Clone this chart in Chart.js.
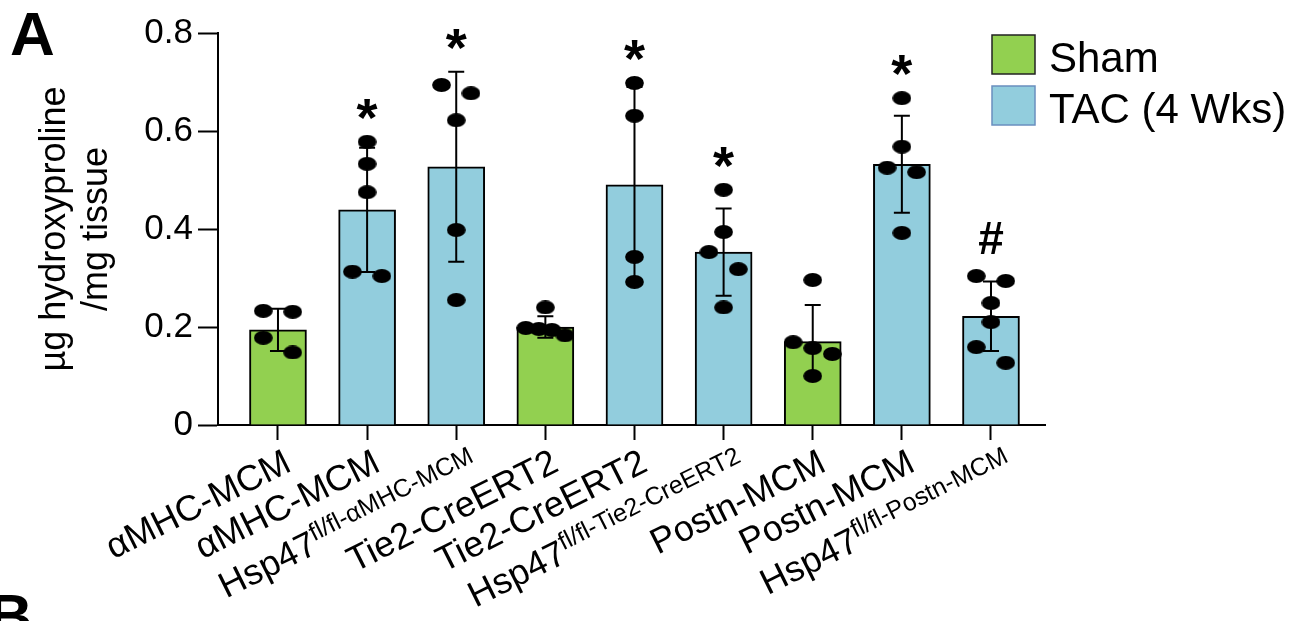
<!DOCTYPE html>
<html><head><meta charset="utf-8">
<script src="https://cdn.jsdelivr.net/npm/chart.js@4/dist/chart.umd.min.js"></script>
<style>html,body{margin:0;padding:0;background:#fff;overflow:hidden}#wrap{width:1304px;height:621px}</style>
</head><body><div id="wrap"><canvas id="c" width="1304" height="621"></canvas></div>
<script>
// ---------- data ----------
const categories = ['αMHC-MCM','αMHC-MCM','Hsp47','Tie2-CreERT2','Tie2-CreERT2','Hsp47','Postn-MCM','Postn-MCM','Hsp47'];
const categorySuperscripts = ['','','fl/fl-αMHC-MCM','','','fl/fl-Tie2-CreERT2','','','fl/fl-Postn-MCM'];
const categoryGroups = ['Sham','TAC','TAC','Sham','TAC','TAC','Sham','TAC','TAC'];
const seriesNames = ['Sham','TAC (4 Wks)'];
const meanValues = [0.194,0.439,0.527,0.200,0.490,0.353,0.170,0.532,0.222];
const sdValues   = [0.043,0.127,0.194,0.022,0.200,0.089,0.075,0.099,0.071];
const dots1 = [0.233,0.231,0.178,0.148];
const dots2 = [0.578,0.533,0.475,0.313,0.304];
const dots3 = [0.694,0.677,0.622,0.398,0.255];
const dots4 = [0.240,0.198,0.196,0.194,0.183];
const dots5 = [0.698,0.631,0.343,0.292];
const dots6 = [0.480,0.394,0.353,0.318,0.240];
const dots7 = [0.296,0.169,0.157,0.145,0.100];
const dots8 = [0.667,0.568,0.525,0.516,0.392];
const dots9 = [0.304,0.294,0.249,0.210,0.159,0.127];
const significance = ['','*','*','','*','*','','*','#'];
const yTickValues = [0,0.2,0.4,0.6,0.8];
const yTickLabels = ['0','0.2','0.4','0.6','0.8'];
const yAxisTitle = ['µg hydroxyproline','/mg tissue'];
const panelLetters = ['A','B'];

// ---------- styling ----------
const FONT = '"Liberation Sans", Arial, Helvetica, sans-serif';
const GREEN = '#92D050', BLUE = '#92CDDD';
const colorOf = g => g === 'Sham' ? GREEN : BLUE;

// simple beeswarm: points whose values are close get spread sideways
const SWARM_GAP = 0.0378, SWARM_STEP = 0.33, SWARM_SPREAD = 0.44;
function swarm(vals){
  const idx = vals.map((v,i)=>i).sort((a,b)=>vals[b]-vals[a]);
  const groups = []; let cur = [idx[0]];
  for(let k=1;k<idx.length;k++){
    if(vals[cur[cur.length-1]] - vals[idx[k]] < SWARM_GAP) cur.push(idx[k]);
    else { groups.push(cur); cur=[idx[k]]; }
  }
  groups.push(cur);
  const off = new Array(vals.length).fill(0);
  groups.forEach(g=>{
    const n=g.length; if(n<2) return;
    const step = Math.min(SWARM_STEP, SWARM_SPREAD/(n-1));
    g.forEach((id,k)=>{ off[id] = (k-(n-1)/2)*step; });
  });
  return off;
}
const allDots = [dots1,dots2,dots3,dots4,dots5,dots6,dots7,dots8,dots9];
const dotPoints = [];
allDots.forEach((vals,i)=>{ const o=swarm(vals); vals.forEach((v,k)=>dotPoints.push({x:i+o[k], y:v})); });

const dotImg = document.createElement('canvas');
dotImg.width = 19; dotImg.height = 14;
(function(){ const d=dotImg.getContext('2d'); d.fillStyle='#000'; d.beginPath(); d.ellipse(9.5,7,9.4,6.9,0,0,Math.PI*2); d.fill(); })();

// ---------- plugins ----------
const errorBars = {
  id:'errorBars',
  afterDatasetDraw(chart,args){
    if(args.index!==0) return;
    const {ctx, scales:{x,y}} = chart;
    ctx.save(); ctx.strokeStyle='#000'; ctx.lineWidth=2;
    meanValues.forEach((m,i)=>{
      const px = x.getPixelForValue(i);
      const t = y.getPixelForValue(m+sdValues[i]), b = y.getPixelForValue(m-sdValues[i]);
      ctx.beginPath();
      ctx.moveTo(px,t); ctx.lineTo(px,b);
      ctx.moveTo(px-8,t); ctx.lineTo(px+8,t);
      ctx.moveTo(px-8,b); ctx.lineTo(px+8,b);
      ctx.stroke();
    });
    ctx.restore();
  }
};

const annotations = {
  id:'annotations',
  afterDatasetsDraw(chart){
    const {ctx, scales:{x,y}} = chart;
    ctx.save(); ctx.fillStyle='#000'; ctx.textAlign='center'; ctx.textBaseline='alphabetic';
    significance.forEach((s,i)=>{
      if(!s) return;
      ctx.font = (s === '*' ? 'bold 54px ' : 'bold 46px ') + FONT;
      const topVal = Math.max(meanValues[i]+sdValues[i], ...allDots[i]);
      const top = y.getPixelForValue(topVal);
      const m = ctx.measureText(s);
      const base = (top - 22) - m.actualBoundingBoxDescent;
      ctx.fillText(s, x.getPixelForValue(i), base);
    });
    ctx.restore();
  }
};

const ANGLE = 26.5*Math.PI/180;
const xLabels = {
  id:'xLabels',
  afterDraw(chart){
    const {ctx, scales:{x}} = chart;
    const mainFont = '36px '+FONT, supFont = '25px '+FONT;
    ctx.save(); ctx.fillStyle='#000'; ctx.textBaseline='alphabetic'; ctx.textAlign='left';
    const cu = Math.cos(ANGLE), su = Math.sin(ANGLE);
    categories.forEach((c,i)=>{
      const sup = categorySuperscripts[i];
      ctx.font = mainFont; const w1 = ctx.measureText(c).width;
      ctx.font = supFont; const w2 = sup ? ctx.measureText(sup).width : 0;
      const w = w1 + w2;
      const ex = x.getPixelForValue(i) + (sup ? 24 : 15);
      const ey = sup ? 472 : 470;
      const sx = ex - w*cu, sy = ey + w*su;
      ctx.save(); ctx.translate(sx,sy); ctx.rotate(-ANGLE);
      ctx.font = mainFont; ctx.fillText(c,0,0);
      if(sup){ ctx.font = supFont; ctx.fillText(sup, w1, -12); }
      ctx.restore();
    });
    ctx.restore();
  }
};

const legendAndLetters = {
  id:'legendAndLetters',
  afterDraw(chart){
    const ctx = chart.ctx;
    ctx.save();
    const items = [{c:GREEN, b:'#222', y:35}, {c:BLUE, b:'#6a8fbf', y:86}];
    items.forEach((it,k)=>{
      ctx.fillStyle = it.c; ctx.fillRect(992, it.y, 43, 39);
      ctx.strokeStyle = it.b; ctx.lineWidth = 1.5; ctx.strokeRect(992, it.y, 43, 39);
      ctx.fillStyle = '#000'; ctx.font = '42px '+FONT; ctx.textAlign='left'; ctx.textBaseline='alphabetic';
      ctx.fillText(seriesNames[k], 1049, it.y + 37);
    });
    ctx.font = 'bold 62px '+FONT; ctx.fillStyle='#000';
    ctx.fillText(panelLetters[0], 10, 55);
    ctx.fillText(panelLetters[1], -12, 637);
    ctx.restore();
  }
};

// ---------- chart ----------
new Chart(document.getElementById('c'), {
  type:'bar',
  data:{
    datasets:[
      { type:'bar', label:'bars', data: meanValues.map((v,i)=>({x:i, y:v})),
        backgroundColor: categoryGroups.map(colorOf), borderColor:'#000', borderWidth:2,
        borderSkipped:'start', barThickness:57, order:2 },
      { type:'scatter', label:'points', data: dotPoints, pointStyle: dotImg, pointRadius: 9,
        order:1 }
    ]
  },
  options:{
    responsive:false, animation:false, events:[],
    layout:{ padding:{ left:0, top:33, right:259, bottom:0 } },
    plugins:{ legend:{display:false}, tooltip:{enabled:false} },
    scales:{
      x:{ type:'linear', min:-0.673, max:8.606, offset:false,
          grid:{ offset:false, drawOnChartArea:false, drawTicks:true, tickLength:15, tickWidth:2, tickColor:'#000' },
          border:{ display:true, color:'#000', width:2 },
          ticks:{ display:false, stepSize:1, includeBounds:false, autoSkip:false },
          afterFit:s=>{ s.height = 196; } },
      y:{ min:0, max:0.8,
          afterBuildTicks:s=>{ s.ticks = yTickValues.map(v=>({value:v})); },
          ticks:{ callback:(v,i)=>yTickLabels[i], font:{ family:FONT, size:35 }, color:'#000', padding:5 },
          grid:{ drawOnChartArea:false, drawTicks:true, tickLength:20, tickWidth:2, tickColor:'#000' },
          border:{ display:true, color:'#000', width:2 },
          title:{ display:true, text:yAxisTitle, color:'#000', font:{ family:FONT, size:36, lineHeight:1.17 }, padding:{ top:34, bottom:0 } },
          afterFit:s=>{ s.width = 218; } }
    }
  },
  plugins:[errorBars, annotations, xLabels, legendAndLetters]
});
</script></body></html>
